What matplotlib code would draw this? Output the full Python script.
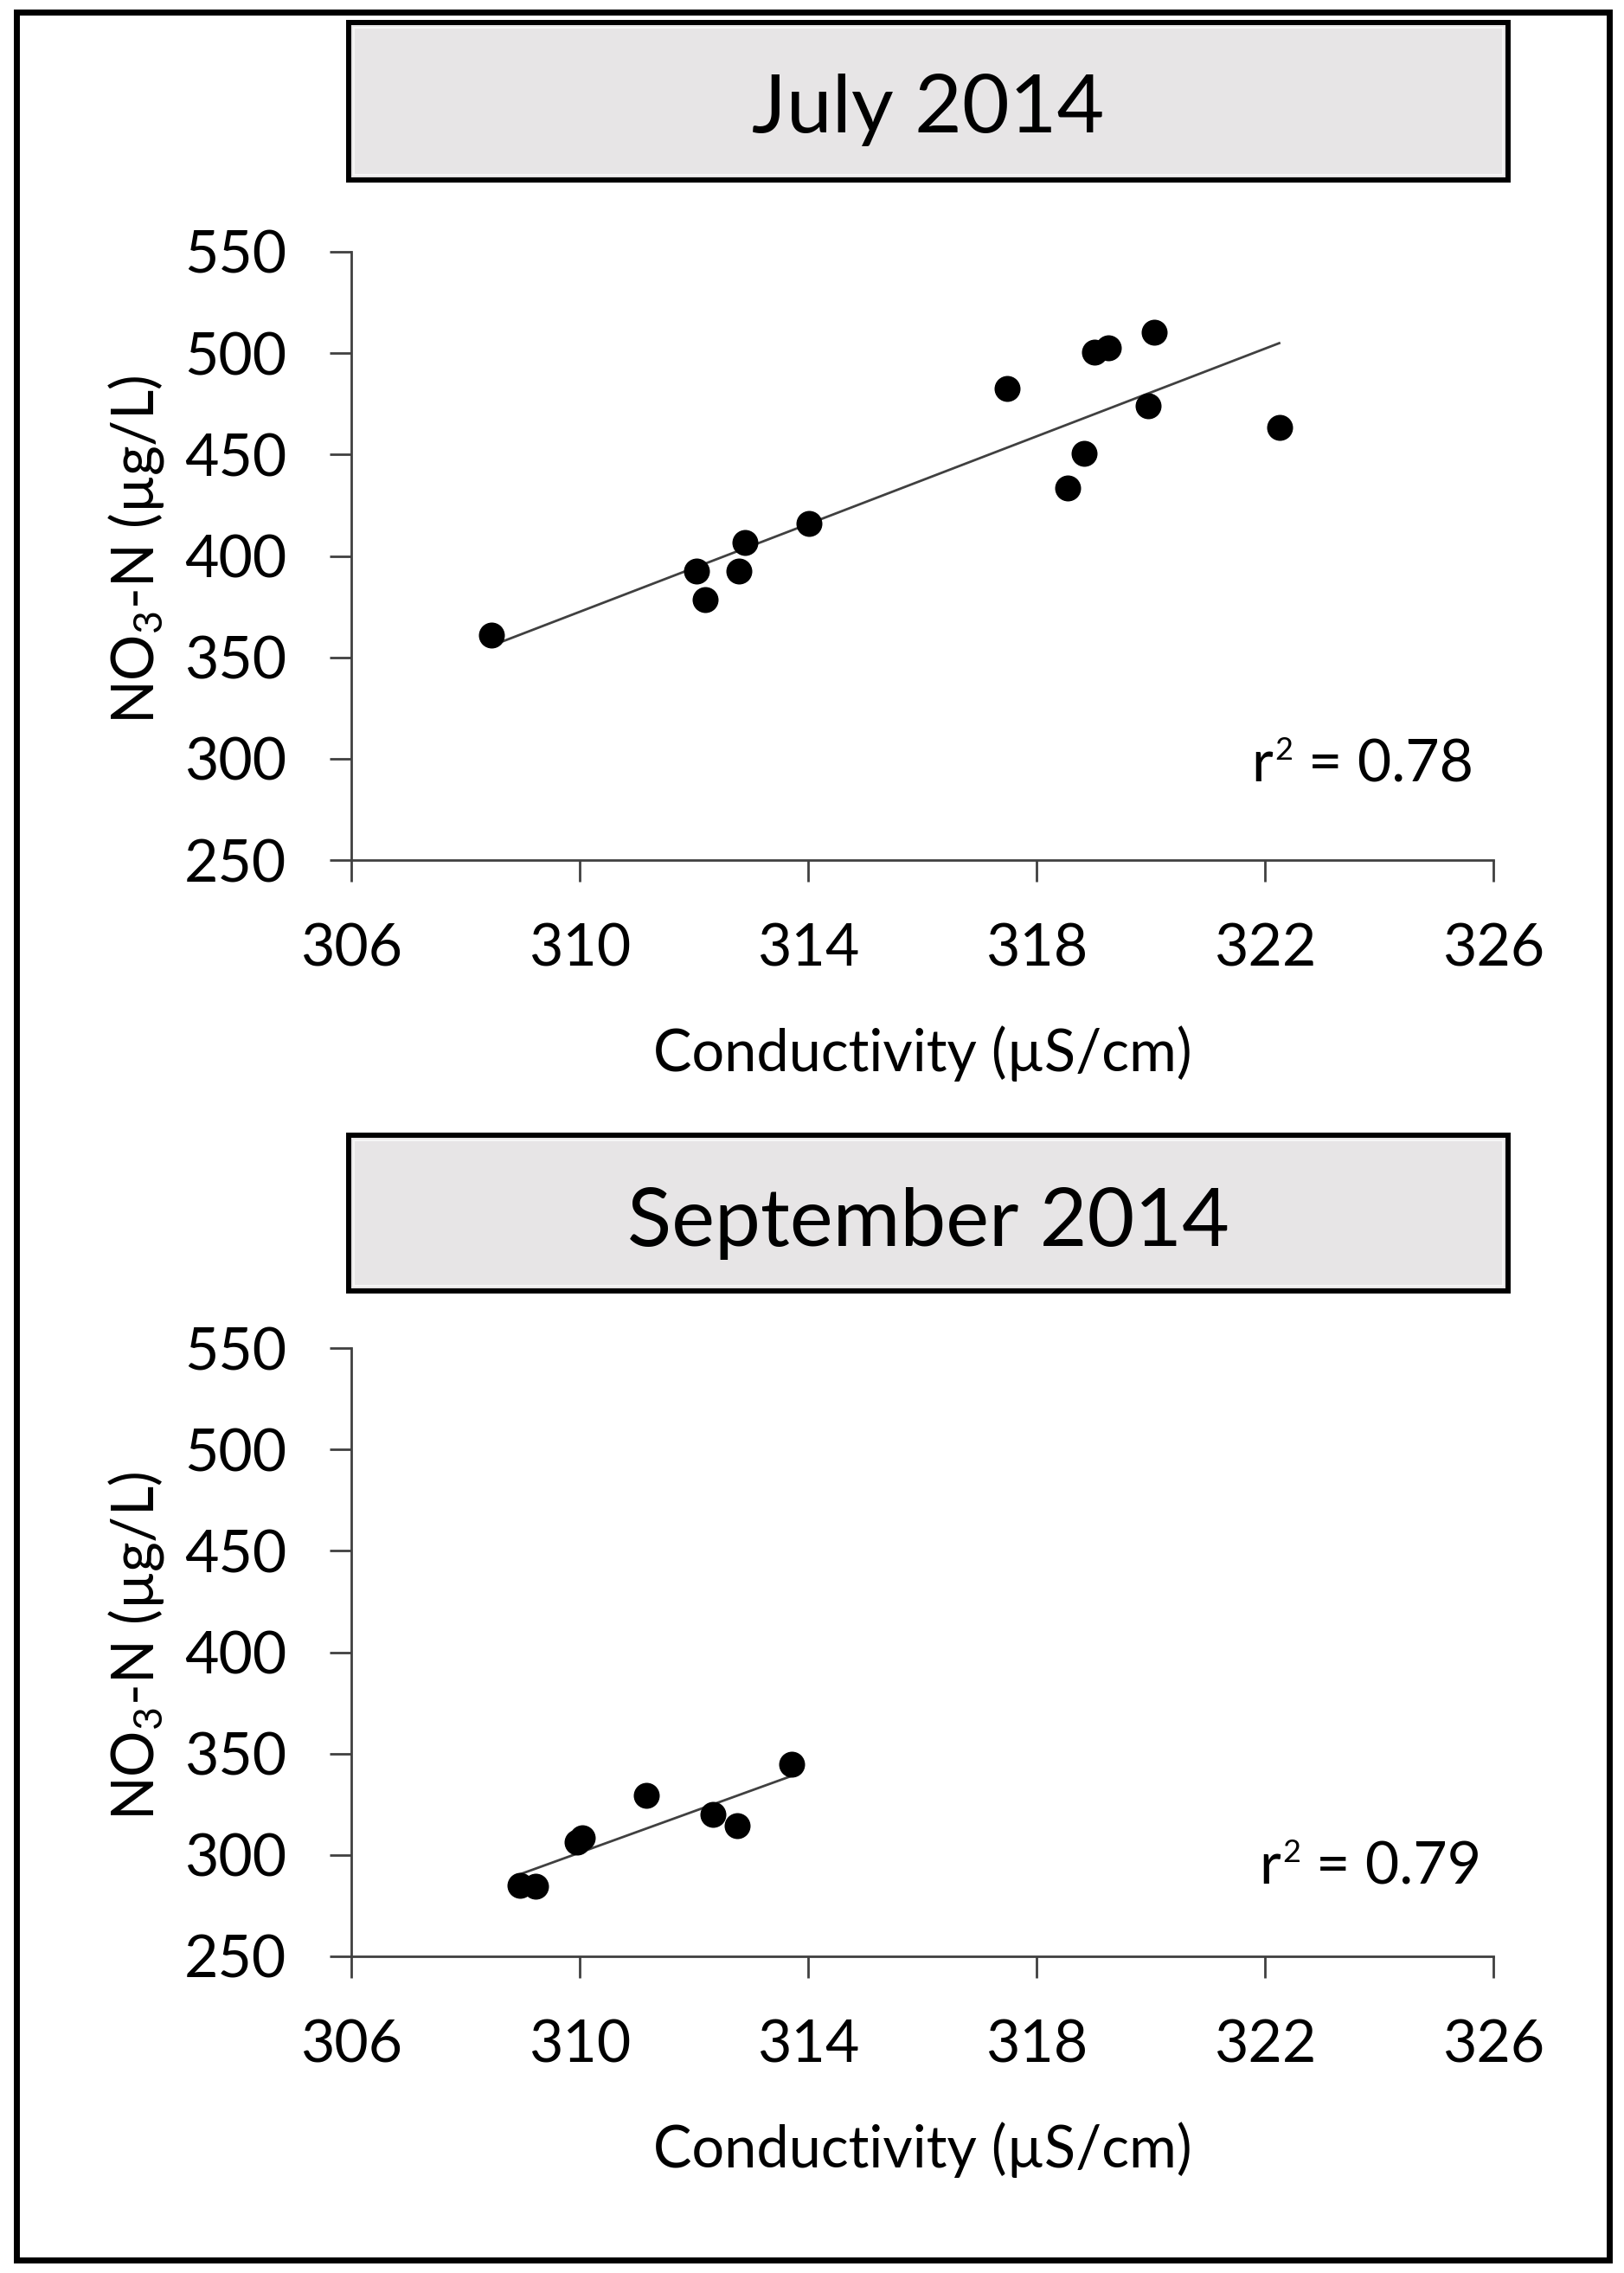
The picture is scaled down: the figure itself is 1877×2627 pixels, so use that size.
import numpy as np
import matplotlib
matplotlib.use('Agg')
import matplotlib.pyplot as plt
from matplotlib.patches import Rectangle

plt.rcParams['font.family'] = ['Lato', 'DejaVu Sans']
plt.rcParams['mathtext.fontset'] = 'custom'
plt.rcParams['mathtext.rm'] = 'Lato'
plt.rcParams['mathtext.it'] = 'Lato:italic'
plt.rcParams['mathtext.bf'] = 'Lato:bold'

# ---------------- data ----------------
july_cond = [308.46, 312.04, 312.20, 312.79, 312.89, 314.01, 317.49,
             318.55, 318.84, 319.02, 319.26, 320.06, 319.95, 322.25]
july_no3 = [360.9, 392.4, 378.3, 392.4, 406.5, 415.9, 482.6,
            433.7, 450.4, 500.4, 502.8, 510.2, 473.9, 463.5]

sept_cond = [308.95, 309.23, 309.95, 310.05, 311.16, 312.34, 312.75, 313.71]
sept_no3 = [284.8, 284.5, 306.2, 308.3, 329.4, 319.9, 314.3, 344.6]

panel_titles = ['July 2014', 'September 2014']
r2_values = ['0.78', '0.79']
x_ticks = [306, 310, 314, 318, 322, 326]
y_ticks = [250, 300, 350, 400, 450, 500, 550]
x_label = 'Conductivity (µS/cm)'
y_label = 'NO$_{\\mathrm{3}}$-N (µg/L)'

# ---------------- layout ----------------
W, H = 1877, 2627
fig = plt.figure(figsize=(W / 100, H / 100), dpi=100)
fig.patch.set_facecolor('white')
renderer = fig.canvas.get_renderer()

def fx(px):
    return px / W

def fy(py):
    return 1 - py / H

AX_COLOR = '#404040'
panels = [
    dict(cond=july_cond, no3=july_no3, title=panel_titles[0], r2=r2_values[0],
         ax_top=291, ax_bot=994, box_top=26, box_bot=208, title_base=153,
         r2_right=1703, r2_base=903, xlab_base=1238, ylab_c=635),
    dict(cond=sept_cond, no3=sept_no3, title=panel_titles[1], r2=r2_values[1],
         ax_top=1558, ax_bot=2261, box_top=1312, box_bot=1492, title_base=1440,
         r2_right=1712, r2_base=2177, xlab_base=2505, ylab_c=1902),
]

AX_LEFT, AX_RIGHT = 406, 1726
BOX_LEFT, BOX_RIGHT = 403, 1743

for p in panels:
    ax = fig.add_axes([fx(AX_LEFT), fy(p['ax_bot']),
                       fx(AX_RIGHT - AX_LEFT), (p['ax_bot'] - p['ax_top']) / H])
    ax.set_xlim(306, 326)
    ax.set_ylim(250, 550)
    ax.set_xticks(x_ticks)
    ax.set_yticks(y_ticks)
    for s in ['top', 'right']:
        ax.spines[s].set_visible(False)
    for s in ['left', 'bottom']:
        ax.spines[s].set_color(AX_COLOR)
        ax.spines[s].set_linewidth(2.0)
    ax.tick_params(axis='both', which='major', direction='out', length=18,
                   width=2.0, color=AX_COLOR, labelsize=49, labelcolor='black')
    ax.tick_params(axis='y', pad=36)
    ax.tick_params(axis='x', pad=34)

    x = np.array(p['cond'])
    y = np.array(p['no3'])
    coef = np.polyfit(x, y, 1)
    xs = np.array([x.min(), x.max()])
    ax.plot(xs, np.polyval(coef, xs), color=AX_COLOR, lw=2.0, zorder=2)
    ax.plot(x, y, 'o', ms=21.6, color='black', mew=0, zorder=3, clip_on=False)

    # title box
    bx = Rectangle((fx(BOX_LEFT), fy(p['box_bot'])), fx(BOX_RIGHT - BOX_LEFT),
                   (p['box_bot'] - p['box_top']) / H, transform=fig.transFigure,
                   facecolor='#E7E5E6', edgecolor='black', lw=4.3, zorder=5)
    fig.patches.append(bx)
    inner = Rectangle((fx(BOX_LEFT + 6), fy(p['box_bot'] - 6)),
                      fx(BOX_RIGHT - BOX_LEFT - 12),
                      (p['box_bot'] - p['box_top'] - 12) / H,
                      transform=fig.transFigure, facecolor='none',
                      edgecolor='#F6F6F6', lw=1.5, zorder=6)
    fig.patches.append(inner)
    fig.text(fx((BOX_LEFT + BOX_RIGHT) / 2), fy(p['title_base']), p['title'],
             ha='center', va='baseline', fontsize=68, color='black', zorder=7)

    # r^2 (built from pieces so the superscript matches the reference size)
    t_main = fig.text(fx(p['r2_right']), fy(p['r2_base']), '= ' + p['r2'],
                      ha='right', va='baseline', fontsize=49, color='black')
    bb = t_main.get_window_extent(renderer)
    x_sup_right = bb.x0 - 18
    t_sup = fig.text(x_sup_right / W, fy(p['r2_base'] - 25), '2', ha='right',
                     va='baseline', fontsize=26, color='black')
    bb2 = t_sup.get_window_extent(renderer)
    fig.text((bb2.x0 - 2) / W, fy(p['r2_base']), 'r', ha='right',
             va='baseline', fontsize=49, color='black')

    # axis labels
    fig.text(fx((AX_LEFT + AX_RIGHT) / 2), fy(p['xlab_base']), x_label,
             ha='center', va='baseline', fontsize=48, color='black')
    fig.text(fx(178), fy(p['ylab_c']), y_label, rotation=90,
             rotation_mode='anchor', ha='center', va='baseline',
             fontsize=48, color='black')

# outer border
border = Rectangle((fx(19), fy(2612)), fx(1860 - 19), (2612 - 13.5) / H,
                   transform=fig.transFigure, facecolor='none',
                   edgecolor='black', lw=5, zorder=10)
fig.patches.append(border)

fig.savefig('out.png', dpi=100, facecolor='white')
